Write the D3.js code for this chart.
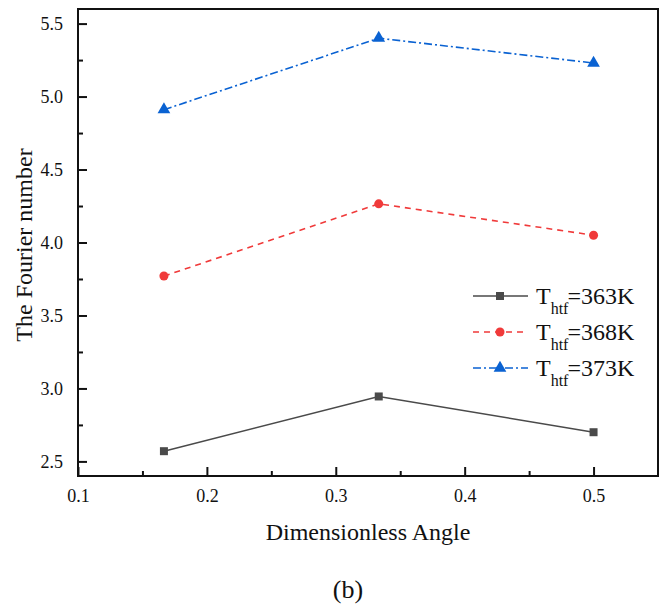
<!DOCTYPE html>
<html>
<head>
<meta charset="utf-8">
<script src="https://cdn.jsdelivr.net/npm/d3@7"></script>
<style>
  html, body { margin: 0; padding: 0; background: #fff; }
  svg { display: block; }
  text { font-family: "Liberation Serif", "Times New Roman", serif; fill: #111; }
</style>
</head>
<body>
<svg id="chart" width="672" height="606"></svg>
<script>
// Dimensionless angle positions and Fourier numbers per HTF temperature
const angles = [1/6, 1/3, 0.5];
const fo363 = [2.57, 2.945, 2.70];
const fo368 = [3.77, 4.265, 4.05];
const fo373 = [4.91, 5.40, 5.23];
const seriesNames = ["363K", "368K", "373K"];
const xTicks = [0.1, 0.2, 0.3, 0.4, 0.5];
const yTicks = [2.5, 3.0, 3.5, 4.0, 4.5, 5.0, 5.5];

const svg = d3.select("#chart");
const m = { left: 78, right: 658, top: 9, bottom: 476 };

const x = d3.scaleLinear().domain([0.1, 0.55]).range([m.left, m.right]);
const y = d3.scaleLinear().domain([2.4, 5.6]).range([m.bottom, m.top]);

const series = [
  { name: seriesNames[0], values: fo363, color: "#4a4a4a", dash: null, marker: "square" },
  { name: seriesNames[1], values: fo368, color: "#f03a3a", dash: "6,5", marker: "circle" },
  { name: seriesNames[2], values: fo373, color: "#0a62d2", dash: "8,3,2,3", marker: "triangle" }
];

const symbolFor = {
  square: d3.symbol().type(d3.symbolSquare).size(64),
  circle: d3.symbol().type(d3.symbolCircle).size(64),
  triangle: d3.symbol().type(d3.symbolTriangle).size(70)
};

// Axes with inward major and minor ticks
const xMinor = d3.range(0.15, 0.55, 0.1);
const yMinor = d3.range(2.75, 5.6, 0.5);

const gx = svg.append("g").attr("transform", `translate(0,${m.bottom})`);
gx.call(d3.axisBottom(x).tickValues(xTicks).tickSize(-9).tickFormat(d3.format(".1f")).tickPadding(13));
const gxm = svg.append("g").attr("transform", `translate(0,${m.bottom})`);
gxm.call(d3.axisBottom(x).tickValues(xMinor).tickSize(-5).tickFormat(""));

const gy = svg.append("g").attr("transform", `translate(${m.left},0)`);
gy.call(d3.axisLeft(y).tickValues(yTicks).tickSize(-9).tickFormat(d3.format(".1f")).tickPadding(15));
const gym = svg.append("g").attr("transform", `translate(${m.left},0)`);
gym.call(d3.axisLeft(y).tickValues(yMinor).tickSize(-5).tickFormat(""));

[gx, gxm, gy, gym].forEach(g => {
  g.select(".domain").remove();
  g.selectAll(".tick line").attr("stroke", "#111").attr("stroke-width", 2);
  g.selectAll(".tick text").style("font-size", "18px").attr("fill", "#111")
    .style("font-family", '"Liberation Serif", serif');
});

// Frame
svg.append("rect")
  .attr("x", m.left).attr("y", m.top)
  .attr("width", m.right - m.left).attr("height", m.bottom - m.top)
  .attr("fill", "none").attr("stroke", "#111").attr("stroke-width", 2);

// Lines and markers
const line = d3.line().x((d, i) => x(angles[i])).y(d => y(d));
series.forEach(s => {
  svg.append("path")
    .datum(s.values)
    .attr("d", line)
    .attr("fill", "none")
    .attr("stroke", s.color)
    .attr("stroke-width", 1.6)
    .attr("stroke-dasharray", s.dash);
  svg.selectAll(null)
    .data(s.values)
    .enter().append("path")
    .attr("d", symbolFor[s.marker])
    .attr("transform", (d, i) => `translate(${x(angles[i])},${y(d)})`)
    .attr("fill", s.color);
});

// Legend
const legend = svg.append("g");
series.forEach((s, i) => {
  const ly = 296 + i * 36;
  legend.append("line")
    .attr("x1", 473).attr("x2", 528).attr("y1", ly).attr("y2", ly)
    .attr("stroke", s.color).attr("stroke-width", 1.6)
    .attr("stroke-dasharray", s.dash);
  legend.append("path")
    .attr("d", symbolFor[s.marker])
    .attr("transform", `translate(500,${ly})`)
    .attr("fill", s.color);
  const t = legend.append("text")
    .attr("x", 536).attr("y", ly + 8)
    .style("font-size", "24px");
  t.append("tspan").text("T");
  t.append("tspan").attr("dy", 10).style("font-size", "16px").text("htf");
  t.append("tspan").attr("dy", -10).attr("dx", -1).text("=" + s.name);
});

// Axis titles and caption
svg.append("text")
  .attr("x", 368).attr("y", 540)
  .attr("text-anchor", "middle")
  .style("font-size", "24px")
  .text("Dimensionless Angle");

svg.append("text")
  .attr("transform", "translate(32,245) rotate(-90)")
  .attr("text-anchor", "middle")
  .style("font-size", "24px")
  .text("The Fourier number");

svg.append("text")
  .attr("x", 348).attr("y", 598)
  .attr("text-anchor", "middle")
  .style("font-size", "26px")
  .text("(b)");
</script>
</body>
</html>
